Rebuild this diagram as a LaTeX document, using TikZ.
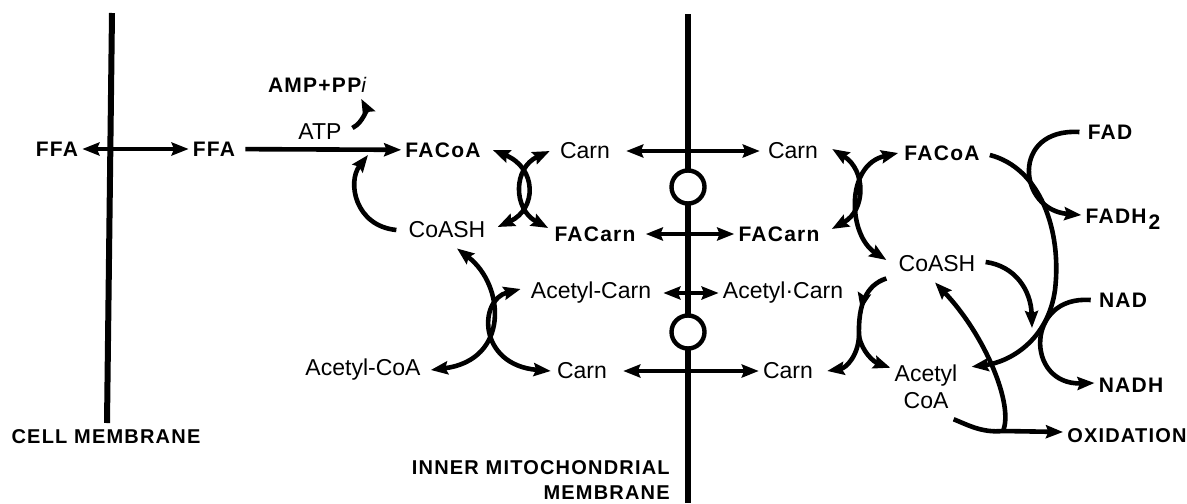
\documentclass[tikz,border=0pt]{standalone}
\usepackage{fontspec}
\setmainfont{Liberation Sans}
\newfontfamily\capsfont{Liberation Sans}[LetterSpace=6]
\usepackage{tikz}
\usetikzlibrary{arrows.meta,decorations.markings}
\tikzstyle{mol}=[inner sep=1pt, font=\fontsize{11.5}{13.5}\selectfont]
\tikzstyle{bmol}=[inner sep=1pt, font=\capsfont\bfseries\fontsize{10.5}{12}\selectfont]
\tikzstyle{caps}=[inner sep=1pt, font=\capsfont\bfseries\fontsize{10}{12.5}\selectfont]
\tikzstyle{memb}=[line width=3pt]
\tikzstyle{rx}=[line width=2.3pt]
\tikzstyle{pore}=[circle, draw, fill=white, line width=2.2pt, minimum size=16.5pt, inner sep=0]
\tikzstyle{midarrow}=[postaction={decorate}, decoration={markings,
                mark=at position 0.62 with {\arrow{>}}}]

\begin{document}
\begin{tikzpicture}[x=0.5pt, y=-0.5pt, >={Stealth[length=8.5pt,width=6.5pt,inset=1.2pt]}, rx]
\useasboundingbox (0,0) rectangle (1187,503);
% membranes
\draw[memb] (112,13) -- (107,423);
\draw[memb] (688,14) -- (688,503);
% cytosol side
\node[bmol] (ffa0) at (57,149) {FFA};
\node[bmol] (ffa1) at (214,149) {FFA};
\node[bmol] (amp) at (317,85) {AMP+PP{\mdseries\itshape i}};
\node[mol] (atp) at (320,132) {ATP};
\node[bmol] (facoa0) at (443,150) {FACoA};
\node[mol] (coash0) at (447,230) {CoASH};
\node[mol] (carn0) at (585,151) {Carn};
\node[bmol] (facarn0) at (595,234) {FACarn};
\node[mol] (acarn0) at (591,293) {Acetyl-Carn};
\node[mol] (accoa0) at (363,370) {Acetyl-CoA};
\node[mol] (carn1) at (582,371) {Carn};
% matrix side
\node[mol] (carn2) at (793,151) {Carn};
\node[bmol] (facarn1) at (779,234) {FACarn};
\node[mol] (acarn1) at (783,293) {Acetyl·Carn};
\node[mol] (carn3) at (788,371) {Carn};
\node[bmol] (facoa1) at (942,153) {FACoA};
\node[mol] (coash1) at (937,264) {CoASH};
\node[mol, align=center] (accoa1) at (926,387) {Acetyl\\CoA};
\node[bmol] (fad) at (1110,132) {FAD};
\node[bmol] (fadh) at (1123,219) {FADH\kern1pt\raisebox{-3pt}{2}};
\node[bmol] (nad) at (1123,300) {NAD};
\node[bmol] (nadh) at (1131,385) {NADH};
\node[caps, anchor=west] (oxid) at (1063,436) {OXIDATION};
\node[caps] (cellm) at (106,437) {CELL MEMBRANE};
\node[caps, align=right, anchor=east] (innerm) at (674,480) {INNER MITOCHONDRIAL\\MEMBRANE};
% carriers
\node[pore] (p1) at (688,187) {};
\node[pore] (p2) at (688,332) {};
\coordinate (jl) at (368,155);
\coordinate (jr) at (1032,328);
\coordinate (jx) at (859,336);
\coordinate (jo) at (1003,431);

\draw[<->] (ffa0) -- (ffa1);
\draw[->, shorten <=3pt] (ffa1) -- (facoa0);
\draw[->] ([xshift=3.3pt,yshift=2pt]atp.east) .. controls (364,122) and (366,108) .. ([xshift=-4.5pt,yshift=-1pt]amp.south east);
\draw[->] ([xshift=-4pt]coash0.west) .. controls (355,226) and (347,182) .. (jl);
\draw[<->] ([xshift=4pt]facoa0.east) .. controls (537,168) and (537,209) .. ([xshift=4pt,yshift=1.5pt]coash0.east);
\draw[<->] ([xshift=-3pt]carn0.west) .. controls (513,168) and (513,209) .. ([xshift=-1pt,yshift=3pt]facarn0.west);
\draw[<->] ([xshift=5pt,yshift=-3pt]coash0.south) .. controls (505,285) and (510,360) .. ([xshift=3pt]accoa0.east);
\draw[<->] ([xshift=-3pt,yshift=2pt]acarn0.west) .. controls (478,300) and (478,365) .. ([xshift=-1pt]carn1.west);

% across the inner membrane
\draw[<->, shorten <=6pt, shorten >=2pt] (carn0) -- (carn2);
\draw[<->, shorten <=3pt] (facarn0) -- (facarn1);
\draw[<->, shorten <=4pt] (acarn0) -- (acarn1);
\draw[<->, shorten <=6pt] (carn1) -- (carn3);

\draw[<->] ([xshift=5pt,yshift=1pt]carn2.east) .. controls (866,170) and (866,210) .. ([xshift=4pt,yshift=2.5pt]facarn1.east);
\draw[<->] ([xshift=-1pt]facoa1.west) .. controls (845,165) and (848,235) .. ([xshift=-4pt,yshift=2pt]coash1.west);
\draw[midarrow] ([xshift=-4pt,yshift=-1pt]coash1.south west) .. controls (866,285) and (858,305) .. (jx);
\draw[->] (jx) .. controls (858,356) and (846,368) .. ([xshift=5pt]carn3.east);
\draw[->] (jx) .. controls (862,352) and (874,362) .. ([yshift=-3.5pt]accoa1.north west);

% beta oxidation loop
\draw[->] ([xshift=3pt,yshift=-1pt]facoa1.east) .. controls (1040,168) and (1062,230) .. (1055,290)
  .. controls (1048,340) and (1010,362) .. ([xshift=5pt,yshift=-3pt]accoa1.north east);
\draw[->] ([xshift=-2pt]fad.west) .. controls (1010,128) and (1018,210) .. ([yshift=2pt]fadh.west);
\draw[->] ([xshift=-2pt]nad.west) .. controls (1025,295) and (1025,385) .. ([yshift=1pt]nadh.west);
\draw[->] ([xshift=3pt,yshift=1pt]coash1.east) .. controls (1015,266) and (1031,290) .. (jr);
\draw[->] ([xshift=-4pt,yshift=-3pt]accoa1.south east) .. controls (968,425) and (982,433) .. (jo) -- ([yshift=2pt]oxid.west);
\draw[->] (jo) .. controls (1014,405) and (985,335) .. ([xshift=-1pt,yshift=-3pt]coash1.south);
\end{tikzpicture}
\end{document}
